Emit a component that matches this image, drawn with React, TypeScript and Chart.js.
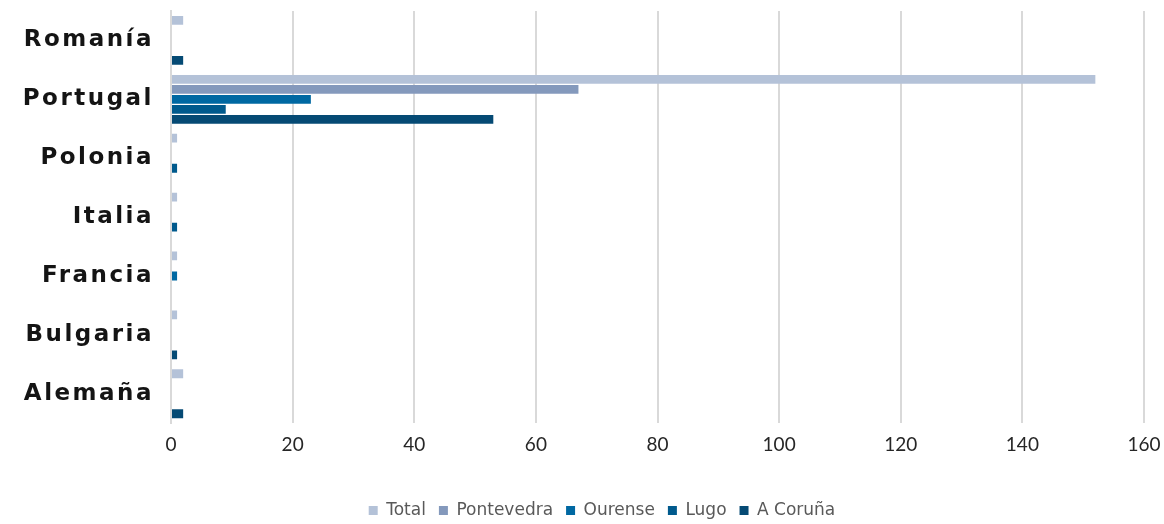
import React, { useEffect, useRef } from "react";
import { Chart, registerables } from "chart.js";
Chart.register(...registerables);

const categories = ["Romanía", "Portugal", "Polonia", "Italia", "Francia", "Bulgaria", "Alemaña"];
const seriesNames = ["Total", "Pontevedra", "Ourense", "Lugo", "A Coruña"];
const total = [2, 152, 1, 1, 1, 1, 2];
const pontevedra = [0, 67, 0, 0, 0, 0, 0];
const ourense = [0, 23, 0, 0, 1, 0, 0];
const lugo = [0, 9, 1, 1, 0, 0, 0];
const aCoruna = [2, 53, 0, 0, 0, 1, 2];
const seriesColors = ["#b4c2d8", "#8499bc", "#0068a2", "#005a8d", "#054a74"];
const xMin = 0;
const xMax = 160;
const xStep = 20;

const yLabelPlugin = {
  id: "yLabelsCustom",
  afterLayout(chart: any) {
    if (chart.legend) {
      chart.legend.left += 20;
      chart.legend.right += 20;
    }
  },
  afterDraw(chart: any) {
    const ctx = chart.ctx;
    const y = chart.scales.y;
    ctx.save();
    ctx.font = "bold 23px 'DejaVu Sans'";
    (ctx as any).letterSpacing = "2.5px";
    ctx.fillStyle = "#141414";
    ctx.textAlign = "right";
    ctx.textBaseline = "middle";
    categories.forEach((c, i) => {
      ctx.fillText(c, 154, y.getPixelForValue(i));
    });
    ctx.restore();
  },
};

export default function App() {
  const ref = useRef<HTMLCanvasElement>(null);
  useEffect(() => {
    if (!ref.current) return;
    const values = [total, pontevedra, ourense, lugo, aCoruna];
    const chart = new Chart(ref.current, {
      type: "bar",
      data: {
        labels: categories,
        datasets: seriesNames.map((name, i) => ({
          label: name,
          data: values[i],
          backgroundColor: seriesColors[i],
          borderWidth: 0,
          categoryPercentage: 0.85,
          barPercentage: 0.88,
        })),
      },
      options: {
        indexAxis: "y",
        animation: false,
        responsive: false,
        maintainAspectRatio: false,
        layout: { padding: { top: 11, right: 0, bottom: -5, left: 0 } },
        plugins: {
          tooltip: { enabled: false },
          legend: {
            position: "bottom",
            labels: {
              boxWidth: 9,
              boxHeight: 9,
              padding: 13,
              color: "#595959",
              font: { family: "'DejaVu Sans'", size: 17 },
            },
          },
        },
        scales: {
          x: {
            min: xMin,
            max: xMax,
            ticks: {
              stepSize: xStep,
              color: "#262626",
              padding: 10,
              font: { family: "Lato", size: 19 },
            },
            grid: { color: "#d9d9d9", lineWidth: 2, drawTicks: false },
            border: { display: false },
            afterFit: (s: any) => {
              s.height += 23;
              s.paddingRight = 20;
              s.paddingLeft = 0;
            },
          },
          y: {
            ticks: { display: false },
            grid: { display: false },
            border: { display: true, color: "#d9d9d9", width: 2 },
            afterFit: (s: any) => {
              s.width = 171;
            },
          },
        },
      },
      plugins: [yLabelPlugin],
    });
    return () => chart.destroy();
  }, []);
  return (
    <div style={{ position: "absolute", left: 0, top: 0, width: 1164, height: 524, background: "#fff" }}>
      <canvas ref={ref} width={1164} height={524} style={{ width: 1164, height: 524 }} />
    </div>
  );
}
